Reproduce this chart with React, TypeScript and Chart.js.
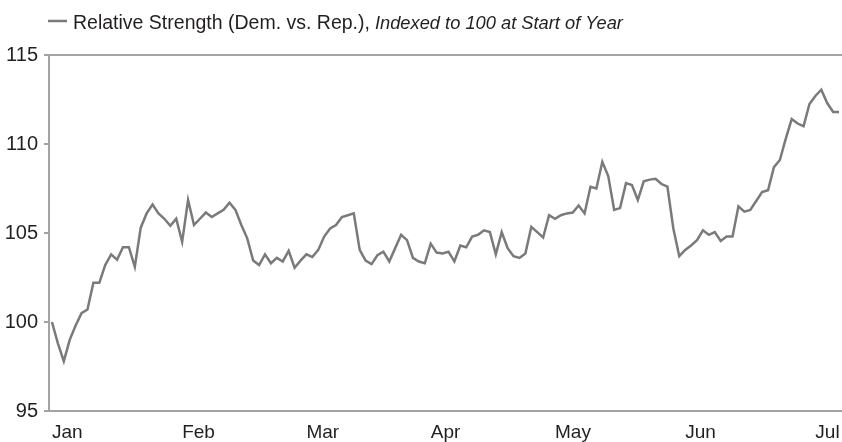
import React, { useEffect, useRef } from 'react';
import { Chart, registerables } from 'chart.js';

Chart.register(...registerables);

// Relative strength index values (one per trading day, Jan -> early Jul)
const VALUES: number[] = [
  100.0, 98.8, 97.8, 99.0, 99.8, 100.5, 100.7, 102.2, 102.2, 103.2,
  103.8, 103.5, 104.2, 104.2, 103.1, 105.3, 106.1, 106.6, 106.1, 105.8,
  105.4, 105.8, 104.5, 106.85, 105.45, 105.8, 106.15, 105.9, 106.1, 106.3,
  106.7, 106.3, 105.45, 104.7, 103.45, 103.2, 103.8, 103.3, 103.6, 103.4,
  104.0, 103.05, 103.45, 103.8, 103.65, 104.05, 104.8, 105.25, 105.45, 105.9,
  106.0, 106.1, 104.05, 103.45, 103.25, 103.75, 103.95, 103.4, 104.15, 104.9,
  104.6, 103.6, 103.4, 103.3, 104.4, 103.9, 103.85, 103.95, 103.4, 104.3,
  104.2, 104.8, 104.9, 105.15, 105.05, 103.8, 105.05, 104.15, 103.7, 103.6,
  103.85, 105.35, 105.05, 104.75, 106.0, 105.8, 106.0, 106.1, 106.15, 106.55,
  106.1, 107.6, 107.5, 109.0, 108.2, 106.3, 106.4, 107.8, 107.7, 106.85,
  107.9, 108.0, 108.05, 107.75, 107.6, 105.25, 103.7, 104.05, 104.3, 104.6,
  105.15, 104.9, 105.05, 104.55, 104.8, 104.8, 106.5, 106.2, 106.3, 106.8,
  107.3, 107.4, 108.7, 109.1, 110.3, 111.4, 111.15, 111.0, 112.25, 112.7,
  113.05, 112.3, 111.8, 111.8,
];

// Month labels and the trading-day index at which each month starts
const MONTHS: string[] = ['Jan', 'Feb', 'Mar', 'Apr', 'May', 'Jun', 'Jul'];
const MONTH_START: number[] = [0, 22, 43, 64, 85, 107, 129];

const Y_MIN = 95;
const Y_MAX = 115;
const Y_STEP = 5;

const SERIES_NAME = 'Relative Strength (Dem. vs. Rep.),';
const SERIES_NOTE = 'Indexed to 100 at Start of Year';

const LINE_COLOR = '#7a7a7a';
const AXIS_COLOR = '#a3a3a3';
const TEXT_COLOR = '#231f20';
const REGULAR = '"Liberation Sans", Arial, sans-serif';

export default function App() {
  const ref = useRef<HTMLCanvasElement>(null);

  useEffect(() => {
    if (!ref.current) return;
    const labels = VALUES.map((_, i) => String(i));
    const monthAt = new Map<number, string>();
    MONTH_START.forEach((idx, k) => monthAt.set(idx, MONTHS[k]));

    const legendPlugin = {
      id: 'seriesLegend',
      afterDraw(chart: any) {
        const ctx = chart.ctx as CanvasRenderingContext2D;
        ctx.save();
        ctx.strokeStyle = LINE_COLOR;
        ctx.lineWidth = 2.5;
        ctx.beginPath();
        ctx.moveTo(48, 21);
        ctx.lineTo(67, 21);
        ctx.stroke();
        ctx.fillStyle = TEXT_COLOR;
        ctx.textBaseline = 'alphabetic';
        ctx.textAlign = 'left';
        ctx.font = `19.5px ${REGULAR}`;
        ctx.fillText(SERIES_NAME, 73, 29);
        const w = ctx.measureText(SERIES_NAME).width;
        ctx.font = `italic 18.3px ${REGULAR}`;
        ctx.fillText(SERIES_NOTE, 73 + w + 5, 29);
        ctx.restore();
      },
    };

    const chart = new Chart(ref.current, {
      type: 'line',
      data: {
        labels,
        datasets: [
          {
            label: SERIES_NAME,
            data: VALUES,
            borderColor: LINE_COLOR,
            borderWidth: 2.5,
            pointRadius: 0,
            tension: 0,
            fill: false,
          },
        ],
      },
      options: {
        animation: false,
        responsive: false,
        devicePixelRatio: 1,
        layout: { padding: { top: 55, left: 0, right: 0, bottom: 0 } },
        plugins: {
          legend: { display: false },
          tooltip: { enabled: false },
          title: { display: false },
        },
        scales: {
          x: {
            type: 'category',
            offset: true,
            grid: { display: false },
            border: { display: true, color: AXIS_COLOR, width: 2 },
            ticks: {
              autoSkip: false,
              maxRotation: 0,
              minRotation: 0,
              align: 'start',
              padding: 2,
              color: TEXT_COLOR,
              font: { family: REGULAR, size: 19 },
              callback: (_v: any, i: number) => monthAt.get(i) ?? '',
            },
            afterFit: (s: any) => {
              s.height = 31;
              s.paddingLeft = 0;
              s.paddingRight = 0;
            },
          },
          y: {
            min: Y_MIN,
            max: Y_MAX,
            ticks: {
              stepSize: Y_STEP,
              padding: 6,
              color: TEXT_COLOR,
              font: { family: REGULAR, size: 20 },
            },
            grid: {
              color: (c: any) => (c.tick && c.tick.value === Y_MAX ? AXIS_COLOR : 'rgba(0,0,0,0)'),
              tickColor: AXIS_COLOR,
              tickLength: 5,
              lineWidth: 2,
            },
            border: { display: true, color: AXIS_COLOR, width: 2 },
            afterFit: (s: any) => {
              s.width = 49;
              s.paddingTop = 0;
              s.paddingBottom = 0;
            },
          },
        },
      },
      plugins: [legendPlugin],
    });

    return () => chart.destroy();
  }, []);

  return (
    <div style={{ position: 'fixed', left: 0, top: 0, width: 842, height: 442, background: '#fff' }}>
      <canvas ref={ref} width={842} height={442} style={{ display: 'block' }} />
    </div>
  );
}
